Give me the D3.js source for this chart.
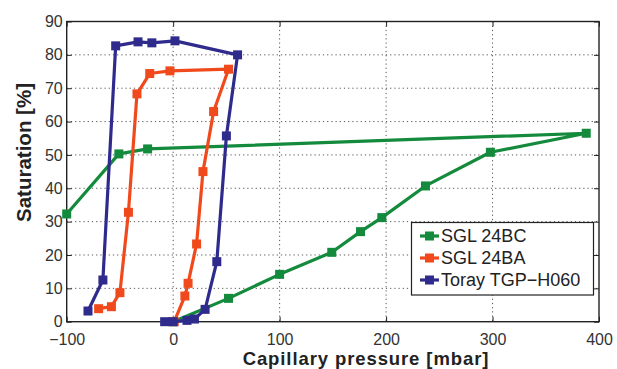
<!DOCTYPE html>
<html>
<head>
<meta charset="utf-8">
<script src="https://cdn.jsdelivr.net/npm/d3@7"></script>
<style>
  html, body { margin: 0; padding: 0; background: #fff; }
  svg { display: block; font-family: "Liberation Sans", Arial, Helvetica, sans-serif; }
</style>
</head>
<body>
<svg id="chart" width="617" height="369"></svg>
<script>
// Capillary pressure vs. saturation loops for three gas diffusion layers
const seriesNames = ["SGL 24BC", "SGL 24BA", "Toray TGP\u2212H060"];
const seriesColors = ["#138a3c", "#f04a1c", "#2f2b8d"];

const pressureSGL24BC = [0, 52, 100, 149, 176, 196, 237, 298, 388, -24, -51, -100];
const saturationSGL24BC = [0, 7.0, 14.2, 20.8, 27.0, 31.2, 40.7, 50.8, 56.5, 51.8, 50.3, 32.3];

const pressureSGL24BA = [1, 11, 14, 22, 28, 38, 52, -3, -22, -34, -42, -50, -58, -70];
const saturationSGL24BA = [0, 7.7, 11.5, 23.3, 45.0, 63.0, 75.7, 75.2, 74.4, 68.3, 32.8, 8.7, 4.5, 3.9];

const pressureToray = [-8, 0, 13, 20, 30, 41, 50, 60.5, 1.7, -20, -33, -54, -66, -80];
const saturationToray = [0, 0, 0.4, 0.8, 3.7, 18.0, 55.7, 80.0, 84.2, 83.6, 83.9, 82.7, 12.5, 3.2];

const xTicks = [-100, 0, 100, 200, 300, 400];
const yTicks = [0, 10, 20, 30, 40, 50, 60, 70, 80, 90];

const xLabel = "Capillary pressure [mbar]";
const yLabel = "Saturation [%]";

const series = [
  { name: seriesNames[0], color: seriesColors[0], x: pressureSGL24BC, y: saturationSGL24BC },
  { name: seriesNames[1], color: seriesColors[1], x: pressureSGL24BA, y: saturationSGL24BA },
  { name: seriesNames[2], color: seriesColors[2], x: pressureToray, y: saturationToray }
];

const svg = d3.select("#chart");
const margin = { left: 66.7, right: 18, top: 21.5, bottom: 47.3 };
const W = 617, H = 369;
const plotW = W - margin.left - margin.right;
const plotH = H - margin.top - margin.bottom;

const x = d3.scaleLinear().domain([-100, 400]).range([margin.left, margin.left + plotW]);
const y = d3.scaleLinear().domain([0, 90]).range([margin.top + plotH, margin.top]);

// dotted grid
const grid = svg.append("g");
grid.selectAll("line.gx").data(xTicks.slice(1, -1)).join("line")
  .attr("x1", d => x(d)).attr("x2", d => x(d))
  .attr("y1", margin.top).attr("y2", margin.top + plotH)
  .attr("stroke", "#555").attr("stroke-width", 1).attr("stroke-dasharray", "1.2,3");
grid.selectAll("line.gy").data(yTicks.slice(1, -1)).join("line")
  .attr("x1", margin.left).attr("x2", margin.left + plotW)
  .attr("y1", d => y(d)).attr("y2", d => y(d))
  .attr("stroke", "#555").attr("stroke-width", 1).attr("stroke-dasharray", "1.2,3");

// axes with inward ticks on all four sides
const tickLen = 5;
const tickFont = 16;
const axB = svg.append("g").attr("transform", `translate(0,${margin.top + plotH})`)
  .call(d3.axisBottom(x).tickValues(xTicks).tickSize(-tickLen).tickPadding(11.7)
    .tickFormat(d => d < 0 ? "\u2212" + Math.abs(d) : d));
const axL = svg.append("g").attr("transform", `translate(${margin.left},0)`)
  .call(d3.axisLeft(y).tickValues(yTicks).tickSize(-tickLen).tickPadding(4));
const axT = svg.append("g").attr("transform", `translate(0,${margin.top})`)
  .call(d3.axisTop(x).tickValues(xTicks).tickSize(-tickLen).tickFormat(""));
const axR = svg.append("g").attr("transform", `translate(${margin.left + plotW},0)`)
  .call(d3.axisRight(y).tickValues(yTicks).tickSize(-tickLen).tickFormat(""));

[axB, axL, axT, axR].forEach(a => {
  a.select(".domain").remove();
  a.selectAll(".tick line").attr("stroke", "#222").attr("stroke-width", 1);
  a.selectAll(".tick text").attr("fill", "#333").attr("font-size", tickFont)
    .attr("font-family", "'Liberation Sans', Arial, sans-serif");
});

// frame
svg.append("rect")
  .attr("x", margin.left).attr("y", margin.top)
  .attr("width", plotW).attr("height", plotH)
  .attr("fill", "none").attr("stroke", "#222").attr("stroke-width", 1.4);

// data lines and square markers
const line = d3.line().x(d => x(d[0])).y(d => y(d[1]));
const mk = 9;
series.forEach(s => {
  const pts = s.x.map((v, i) => [v, s.y[i]]);
  const g = svg.append("g");
  g.append("path").datum(pts).attr("d", line)
    .attr("fill", "none").attr("stroke", s.color)
    .attr("stroke-width", 3.2).attr("stroke-linejoin", "round");
  g.selectAll("rect").data(pts).join("rect")
    .attr("x", d => x(d[0]) - mk / 2).attr("y", d => y(d[1]) - mk / 2)
    .attr("width", mk).attr("height", mk).attr("fill", s.color);
});

// axis titles
svg.append("text")
  .attr("x", 366).attr("y", 364.9)
  .attr("text-anchor", "middle").attr("font-size", 18.5).attr("font-weight", "bold")
  .attr("letter-spacing", 0.9)
  .attr("fill", "#222").text(xLabel);
svg.append("text")
  .attr("transform", `translate(31,152.5) rotate(-90)`)
  .attr("text-anchor", "middle").attr("font-size", 20.5).attr("font-weight", "bold")
  .attr("fill", "#222").text(yLabel);

// legend
const lg = svg.append("g");
lg.append("rect")
  .attr("x", 411.5).attr("y", 222.5).attr("width", 182).attr("height", 72.5)
  .attr("fill", "#fff").attr("stroke", "#222").attr("stroke-width", 1.2);
series.forEach((s, i) => {
  const cy = 236 + i * 22;
  lg.append("line").attr("x1", 420).attr("x2", 439).attr("y1", cy).attr("y2", cy)
    .attr("stroke", s.color).attr("stroke-width", 3.2);
  lg.append("rect").attr("x", 425).attr("y", cy - 4.5).attr("width", mk).attr("height", mk)
    .attr("fill", s.color);
  lg.append("text").attr("x", 441).attr("y", cy + 6.3)
    .attr("font-size", 18).attr("fill", "#222").text(s.name);
});
</script>
</body>
</html>
